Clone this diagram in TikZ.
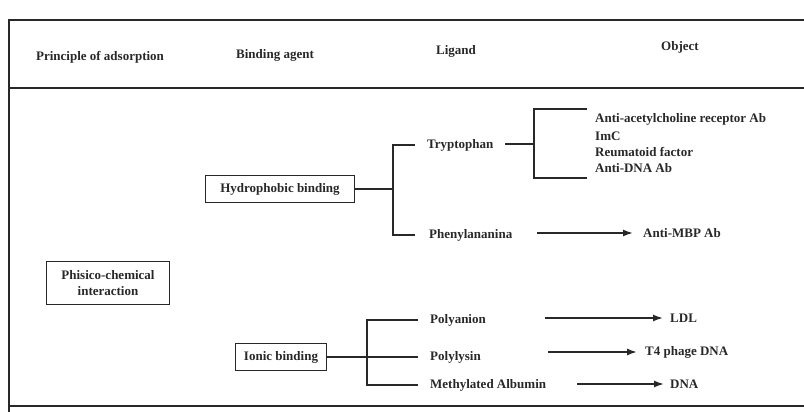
\documentclass[tikz,border=0pt]{standalone}
\usepackage{fontspec}
\setmainfont{Liberation Serif}
\usetikzlibrary{arrows.meta}
\definecolor{ink}{RGB}{40,40,40}
\begin{document}
\begin{tikzpicture}[x=1pt,y=-1pt,
  every node/.style={text=ink},
  txt/.style={font=\fontsize{13}{16}\selectfont\bfseries, inner sep=0pt},
  lbl/.style={txt, anchor=west},
  boxed/.style={txt, draw=ink, line width=1.7pt, align=center},
  rule/.style={draw=ink, line width=2pt},
  conn/.style={draw=ink, line width=1.6pt},
  arr/.style={conn, -{Latex[length=10pt,width=7pt]}}]
\useasboundingbox (0,0) rectangle (804,412);

% table frame
\draw[rule] (804,20) -- (9,20) -- (9,412);
\draw[rule] (9,88) -- (804,88);
\draw[rule] (9,406) -- (804,406);

% headers
\node[txt] (h1) at (100,57) {Principle of adsorption};
\node[txt] (h2) at (275,55) {Binding agent};
\node[txt] (h3) at (456,51) {Ligand};
\node[txt] (h4) at (680,47) {Object};

% boxes
\node[boxed, minimum width=123pt, minimum height=43pt] (pci) at (108,283) {Phisico-chemical\\interaction};
\node[boxed, minimum width=149pt, minimum height=27pt] (hyd) at (280,189) {Hydrophobic binding};
\node[boxed, minimum width=91pt, minimum height=27pt] (ion) at (281,357) {Ionic binding};

% ligands
\node[lbl] (try) at (427,145) {Tryptophan};
\node[lbl] (phe) at (429,235) {Phenylananina};
\node[lbl] (pan) at (430,320) {Polyanion};
\node[lbl] (ply) at (430,357) {Polylysin};
\node[lbl] (mal) at (430,385) {Methylated Albumin};

% objects
\node[lbl] (o1) at (595,119) {Anti-acetylcholine receptor Ab};
\node[lbl] (o2) at (595,136) {ImC};
\node[lbl] (o3) at (595,152) {Reumatoid factor};
\node[lbl] (o4) at (595,168) {Anti-DNA Ab};
\node[lbl] (mbp) at (643,233) {Anti-MBP Ab};
\node[lbl] (ldl) at (670,318) {LDL};
\node[lbl] (t4) at (645,352) {T4 phage DNA};
\node[lbl] (dna) at (670,384) {DNA};

% hydrophobic bracket
\coordinate (b1) at (393,189);
\coordinate (t1) at (415,145);
\coordinate (t2) at (415,235);
\draw[conn] (hyd.east) -- (b1);
\draw[conn] (t1) -| (b1) |- (t2);

% tryptophan bracket
\coordinate (c1) at (505,144);
\coordinate (b2) at (534,144);
\coordinate (u1) at (587,109);
\coordinate (u2) at (587,178);
\draw[conn] (c1) -- (b2);
\draw[conn] (u1) -| (b2) |- (u2);

% phenylananina arrow
\coordinate (a1s) at (537,233);
\coordinate (a1e) at (633,233);
\draw[arr] (a1s) -- (a1e);

% ionic bracket
\coordinate (ib) at (367,357);
\coordinate (s1) at (418,320);
\coordinate (s2) at (418,357);
\coordinate (s3) at (418,385);
\draw[conn] (ion.east) -- (ib) -- (s2);
\draw[conn] (s1) -| (ib) |- (s3);

% ionic arrows
\coordinate (l1s) at (545,318);
\coordinate (l1e) at (663,318);
\coordinate (l2s) at (548,352);
\coordinate (l2e) at (637,352);
\coordinate (l3s) at (577,384);
\coordinate (l3e) at (664,384);
\draw[arr] (l1s) -- (l1e);
\draw[arr] (l2s) -- (l2e);
\draw[arr] (l3s) -- (l3e);
\end{tikzpicture}
\end{document}
